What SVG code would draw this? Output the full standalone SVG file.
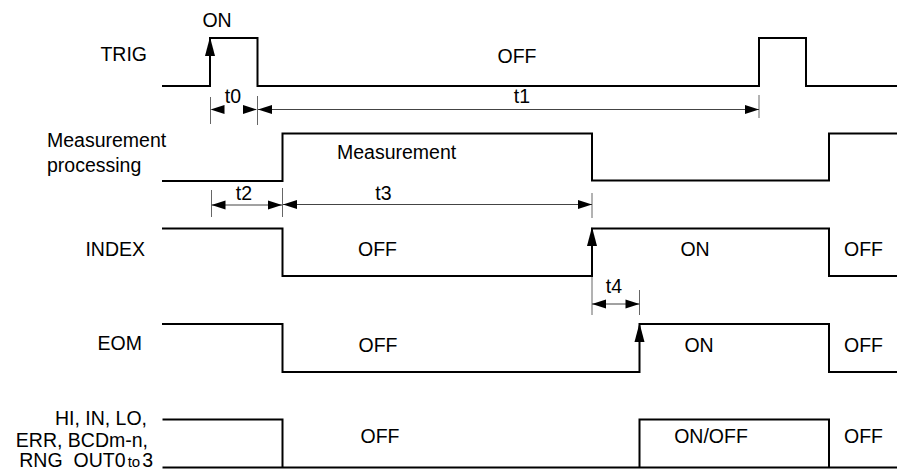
<svg xmlns="http://www.w3.org/2000/svg" xmlns:xlink="http://www.w3.org/1999/xlink" width="897" height="469" viewBox="0 0 897 469">
<style>
text{font-family:"Liberation Sans",Arial,sans-serif;font-size:19.5px;fill:#000}
.c{text-anchor:middle}
.e{text-anchor:end}
.sig{fill:none;stroke:#000;stroke-width:2}
.dim{fill:none;stroke:#444;stroke-width:1}
.tick{fill:none;stroke:#666;stroke-width:1}
.ah{fill:#000}
</style>
<defs>
<path id="ah" d="M0,0 L-14,-4.5 L-14,4.5 Z"/>
<path id="up" d="M0,0 L-5,19 L5,19 Z"/>
</defs>
<rect width="897" height="469" fill="#fff"/>

<g id="trig">
<text class="e" x="147" y="61">TRIG</text>
<path class="sig" d="M162,86 H210 V38 H257.5 V86 H759 V38 H806 V86 H897"/>
<use xlink:href="#up" class="ah" x="210" y="37"/>
<text class="c" x="217" y="27">ON</text>
<text class="c" x="517" y="63">OFF</text>
</g>

<g id="measurement">
<text x="47" y="147">Measurement</text>
<text x="47" y="171.5">processing</text>
<path class="sig" d="M162,181 H282.5 V133.5 H592 V180.5 H829 V133.5 H897"/>
<text x="337" y="159">Measurement</text>
</g>

<g id="index">
<text class="e" x="145" y="256">INDEX</text>
<path class="sig" d="M162,228.5 H282.5 V276 H592 V228.5 H829 V276 H897"/>
<use xlink:href="#up" class="ah" x="592" y="227"/>
<text class="c" x="377.5" y="256">OFF</text>
<text class="c" x="695" y="256">ON</text>
<text class="c" x="863.5" y="256">OFF</text>
</g>

<g id="eom">
<text class="e" x="142" y="350">EOM</text>
<path class="sig" d="M162,324 H282.5 V372 H639.5 V324 H829 V372 H897"/>
<use xlink:href="#up" class="ah" x="639.5" y="323"/>
<text class="c" x="378" y="351.5">OFF</text>
<text class="c" x="699" y="351.5">ON</text>
<text class="c" x="863.5" y="351.5">OFF</text>
</g>

<g id="outputs">
<text class="e" x="147" y="425">HI, IN, LO,</text>
<text class="e" x="148" y="446.5">ERR, BCDm-n,</text>
<text class="e" x="153" y="466.5">RNG<tspan dx="11">OUT0</tspan><tspan font-size="15px" dx="2">to</tspan><tspan dx="2">3</tspan></text>
<path class="sig" d="M162.5,419.5 H282.5 V467.5 M162.5,467.5 H897 M639.5,467.5 V419.5 H829 V467.5"/>
<text class="c" x="380" y="443">OFF</text>
<text class="c" x="711" y="443">ON/OFF</text>
<text class="c" x="863.5" y="443">OFF</text>
</g>

<g id="connectors">
<path class="tick" d="M210.5,97 V124 M257.5,96 V125 M759,95 V118"/>
<path class="dim" d="M258,109.5 H759"/>
<use xlink:href="#ah" class="ah" transform="translate(210.5,109.5) rotate(180)"/>
<use xlink:href="#ah" class="ah" transform="translate(257,109.5)"/>
<use xlink:href="#ah" class="ah" transform="translate(258,109.5) rotate(180)"/>
<use xlink:href="#ah" class="ah" transform="translate(759,109.5)"/>
<text class="c" x="233" y="103">t0</text>
<text class="c" x="522" y="102.5">t1</text>

<path class="tick" d="M211.5,190 V217 M282.5,188 V217 M592,193 V218"/>
<path class="dim" d="M211.5,205 H282.5 M283,204.5 H592"/>
<use xlink:href="#ah" class="ah" transform="translate(211.5,205) rotate(180)"/>
<use xlink:href="#ah" class="ah" transform="translate(282,205)"/>
<use xlink:href="#ah" class="ah" transform="translate(283,204.5) rotate(180)"/>
<use xlink:href="#ah" class="ah" transform="translate(592,204.5)"/>
<text class="c" x="244" y="200">t2</text>
<text class="c" x="383.5" y="199.5">t3</text>

<path class="tick" d="M592,277 V315 M639.5,290 V315"/>
<path class="dim" d="M592,304 H639.5"/>
<use xlink:href="#ah" class="ah" transform="translate(592,304) rotate(180)"/>
<use xlink:href="#ah" class="ah" transform="translate(639.5,304)"/>
<text class="c" x="614" y="292.5">t4</text>
</g>
</svg>
